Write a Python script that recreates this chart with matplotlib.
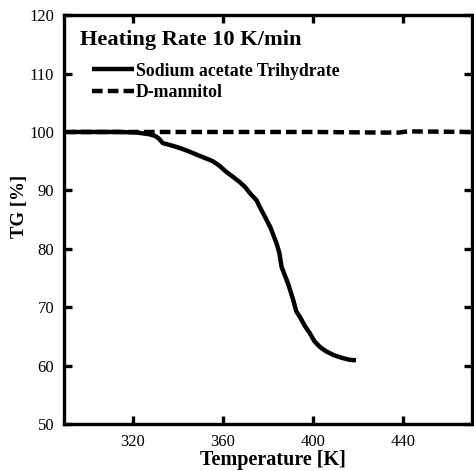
import matplotlib
matplotlib.use("Agg")
import matplotlib.pyplot as plt

plt.rcParams['font.family'] = ['Liberation Serif', 'DejaVu Serif']

# Sodium acetate trihydrate TG curve
sat_T = [293, 300, 314, 322, 327.5, 330, 331.5, 333.3, 338, 342, 346, 349.7, 355.5,
         358.5, 361.7, 364.5, 367.5, 370, 372, 374.9, 376.4, 378.6, 381, 383.8,
         385, 386, 388.9, 391.2, 392.5, 394.2, 396.3, 398.6, 400.5, 403, 405.5,
         409, 413, 416, 419]
sat_TG = [100.0, 100.0, 100.0, 99.9, 99.6, 99.3, 98.9, 98.1, 97.6, 97.1, 96.5, 95.9, 95.0,
          94.2, 93.1, 92.3, 91.4, 90.5, 89.5, 88.3, 87.1, 85.5, 83.7, 80.9,
          79.3, 76.9, 74.0, 71.2, 69.3, 68.3, 66.8, 65.5, 64.2, 63.2, 62.5,
          61.8, 61.3, 61.0, 60.9]

# D-mannitol TG curve
man_T = [290, 320, 360, 400, 430, 438, 442, 470]
man_TG = [100.0, 100.0, 100.0, 100.0, 99.9, 99.9, 100.1, 100.0]

fig = plt.figure(figsize=(4.74, 4.71), dpi=100)
ax = fig.add_axes([0.135, 0.0998, 0.861, 0.868])

ax.plot(sat_T, sat_TG, color='black', lw=3.2, solid_capstyle='butt',
        label='Sodium acetate Trihydrate')
ax.plot(man_T, man_TG, color='black', lw=3.2, ls=(0, (2.4, 1.15)),
        label='D-mannitol')

ax.set_xlim(289.5, 470.5)
ax.set_ylim(50, 120)
ax.set_xticks([320, 360, 400, 440])
ax.set_yticks([50, 60, 70, 80, 90, 100, 110, 120])

for s in ax.spines.values():
    s.set_linewidth(2.4)

ax.tick_params(direction='in', length=6, width=2.4, top=True, right=True,
               labelsize=12, pad=7)

ax.set_xlabel('Temperature [K]', fontsize=14.5, fontweight='bold', labelpad=0)
ax.set_ylabel('TG [%]', fontsize=13.5, fontweight='bold', labelpad=1)
ax.xaxis.label.set_x(0.512)
ax.yaxis.label.set_y(0.532)

ax.text(0.039, 0.927, 'Heating Rate 10 K/min', transform=ax.transAxes,
        fontsize=16.1, fontweight='bold', va='baseline', ha='left')

leg = ax.legend(loc='upper left', bbox_to_anchor=(0.0686, 0.884), frameon=False,
                prop={'weight': 'bold', 'size': 12.8}, handlelength=2.36,
                handletextpad=0.12, labelspacing=0.25, borderaxespad=0,
                borderpad=0)

fig.savefig('out.png', dpi=100)
